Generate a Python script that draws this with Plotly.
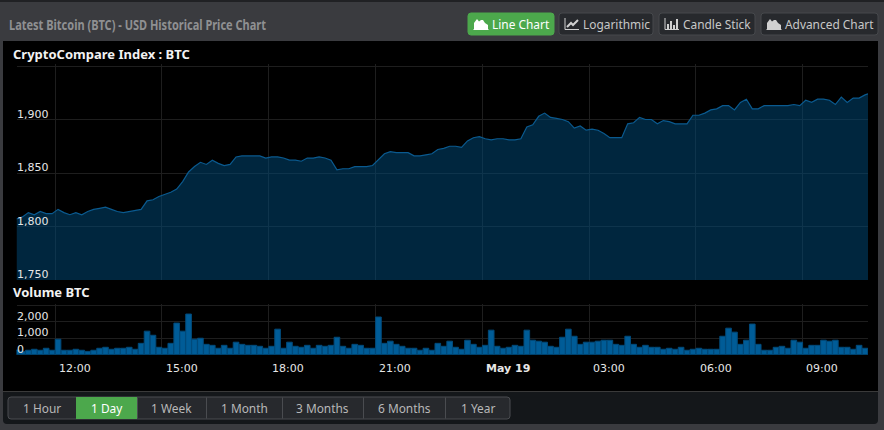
import pandas as pd
import plotly.graph_objects as go

W, H = 884, 430

PRICE = [
    1807, 1809, 1813, 1811, 1814, 1812, 1812, 1816, 1813, 1811,
    1813, 1811, 1814, 1816, 1817, 1818, 1816, 1814, 1813, 1814,
    1815, 1816, 1824, 1825, 1828, 1830, 1832, 1835, 1842, 1851,
    1856, 1860, 1858, 1862, 1859, 1857, 1858, 1865, 1866, 1866,
    1866, 1866, 1864, 1865, 1865, 1864,
    1862, 1862, 1861, 1864, 1864, 1865, 1864, 1862, 1853, 1854,
    1854, 1856, 1856, 1856, 1857, 1863, 1868, 1870, 1869, 1869,
    1869, 1866, 1866, 1867, 1868, 1872, 1873, 1875, 1875, 1874,
    1880, 1883, 1884, 1882, 1881, 1882, 1882, 1881, 1881, 1882,
    1893, 1895, 1903, 1906, 1902, 1901, 1900, 1898, 1892, 1894,
    1890,
    1891, 1890, 1887, 1883, 1883, 1883, 1896, 1897, 1902, 1900,
    1900, 1896, 1899, 1898, 1896, 1896, 1896, 1904, 1904, 1906,
    1909, 1910, 1913, 1913, 1909, 1916, 1919, 1910, 1910, 1913,
    1913, 1913, 1913, 1913, 1914, 1913, 1918, 1916, 1919, 1919,
    1918, 1914, 1921, 1916, 1920, 1920, 1923, 1924,
]
VOLUME = [
    290, 200, 270, 330, 270, 390, 270, 940, 270, 270,
    330, 270, 200, 270, 390, 450, 330, 390, 390, 450, 330,
    690, 1430, 1180, 450, 390, 690, 1920, 1430, 2470, 940,
    1000, 630, 570, 390, 570, 390, 760, 630, 570, 570,
    510, 390, 510, 1550, 390, 760, 510,
    450, 570, 390, 570, 510, 570, 1060, 510, 390, 630,
    570, 390, 390, 2290, 690, 820, 630, 510, 390, 390,
    270, 390, 270, 690, 510, 820, 450, 330, 880, 630,
    450, 570, 1490, 510, 390, 450, 570, 510, 1490, 880,
    820, 760, 510, 450, 1060, 1550, 1120, 630,
    760, 760, 820, 880, 880, 630, 570, 1120, 630, 450,
    570, 450, 450, 330, 390, 330, 450, 270, 330, 390,
    330, 330, 330, 1120, 1610, 1370, 630, 880, 1860, 630,
    270, 270, 450, 510, 390, 880, 760, 390, 570, 570,
    880, 820, 880, 450, 450, 330, 570, 390,
]
TICK_TIMES = ["2017-05-18 12:00", "2017-05-18 15:00", "2017-05-18 18:00",
              "2017-05-18 21:00", "2017-05-19 00:00", "2017-05-19 03:00",
              "2017-05-19 06:00", "2017-05-19 09:00"]
TICK_LABELS = ["12:00", "15:00", "18:00", "21:00", "<b>May 19</b>", "03:00", "06:00", "09:00"]
PRICE_TICKS = [1750, 1800, 1850, 1900, 1950]
PRICE_LABELS = ["1,750", "1,800", "1,850", "1,900", ""]
VOLUME_TICKS = [0, 1000, 2000, 3000]
VOLUME_LABELS = ["0", "1,000", "2,000", ""]
RANGE_TABS = ["1 Hour", "1 Day", "1 Week", "1 Month", "3 Months", "6 Months", "1 Year"]
CHART_BUTTONS = ["Line Chart", "Logarithmic", "Candle Stick", "Advanced Chart"]

bar_times = pd.date_range("2017-05-18 10:55", periods=len(VOLUME), freq="10min")
line_times = list(bar_times) + [bar_times[-1] + pd.Timedelta(minutes=5)]
x_range = ["2017-05-18 10:55", "2017-05-19 10:50"]

GRID = "#1e1e1e"
LABEL = "#e6e6e6"
TICK_FONT = dict(family="DejaVu Sans", size=11, color=LABEL)
UI = "Noto Sans"
UI_SIZE = 11.9


def fx(x):
    return x / W


def fy(y):
    return 1 - y / H


def rect(x0, y0, x1, y1, fill, line=None, lw=1):
    return dict(type="rect", xref="paper", yref="paper", layer="below",
                x0=fx(x0), x1=fx(x1), y0=fy(y0), y1=fy(y1), fillcolor=fill,
                line=dict(color=line or fill, width=lw if line else 0))


def rrect(x0, y0, x1, y1, r, fill, line=None, lw=1, layer="below"):
    p = (f"M {fx(x0 + r)} {fy(y0)} L {fx(x1 - r)} {fy(y0)} Q {fx(x1)} {fy(y0)} {fx(x1)} {fy(y0 + r)} "
         f"L {fx(x1)} {fy(y1 - r)} Q {fx(x1)} {fy(y1)} {fx(x1 - r)} {fy(y1)} "
         f"L {fx(x0 + r)} {fy(y1)} Q {fx(x0)} {fy(y1)} {fx(x0)} {fy(y1 - r)} "
         f"L {fx(x0)} {fy(y0 + r)} Q {fx(x0)} {fy(y0)} {fx(x0 + r)} {fy(y0)} Z")
    return dict(type="path", xref="paper", yref="paper", layer=layer, path=p,
                fillcolor=fill, line=dict(color=line or fill, width=lw if line else 0))


def poly(points, fill=None, line=None, lw=1):
    p = "M " + " L ".join(f"{fx(a)} {fy(b)}" for a, b in points)
    if fill:
        p += " Z"
    d = dict(type="path", xref="paper", yref="paper", layer="above", path=p,
             line=dict(color=line or fill, width=lw))
    if fill:
        d["fillcolor"] = fill
    return d


def label(text, x, y, size=UI_SIZE, color="#c4c4c4", family=UI, anchor="left", weight=None):
    font = dict(family=family, size=size, color=color)
    if weight:
        font["weight"] = weight
    return dict(text=text, xref="paper", yref="paper", x=fx(x), y=fy(y), xanchor=anchor,
                yanchor="middle", showarrow=False, align=anchor, borderpad=0, font=font)


def area_icon(x, color):
    return [poly([(x, 29), (x, 23), (x + 3, 19), (x + 5, 21.5), (x + 7, 20), (x + 9, 20), (x + 11, 23), (x + 14, 25), (x + 14, 29)], fill=color, lw=0),
            poly([(x - 0.5, 29.5), (x + 14.5, 29.5)], line=color)]


def line_icon(x, color):
    return [poly([(x, 18), (x, 29.5), (x + 14, 29.5)], line=color),
            poly([(x + 2, 27), (x + 6, 23), (x + 8, 25), (x + 13, 20)], line=color, lw=2)]


def bar_icon(x, color):
    out = [poly([(x, 18), (x, 29.5), (x + 14, 29.5)], line=color)]
    for dx, top in [(2, 24), (5, 21), (8, 25), (11, 19)]:
        out.append(poly([(x + dx, 29), (x + dx, top), (x + dx + 2, top), (x + dx + 2, 29)], fill=color, lw=0))
    return out


shapes = [
    rect(0, 0, W, H, "#3a3b3f"),
    rect(0, 0, W, 2, "#202124"),
    rrect(3, 380, 878, 424, 4, "#14171a"),
    rect(3, 41, 878, 391, "#000000"),
    rect(3, 391, 878, 392, "#3a3a3a"),
]

annotations = [
    label("Latest Bitcoin (BTC) - USD Historical Price Chart", 7.5, 24, size=14.5, color="#8f9092", weight=700),
    label("<b>CryptoCompare Index : BTC</b>", 12, 54, size=13, color="#f2f2f2"),
    label("<b>Volume BTC</b>", 12, 292, size=13, color="#f2f2f2"),
]

button_boxes = [(468, 554), (559, 653), (659, 755), (761, 878)]
icon_makers = [area_icon, line_icon, bar_icon, area_icon]
for i, (name, (x0, x1), icon) in enumerate(zip(CHART_BUTTONS, button_boxes, icon_makers)):
    active = i == 0
    shapes.append(rrect(x0, 13, x1, 35, 3, "#4ca84c" if active else "#27292d",
                        line="#4ca84c" if active else "#46484c"))
    col = "#ffffff" if active else "#d0d0d0"
    shapes.extend(icon(x0 + 6, col))
    annotations.append(label(name, x0 + 22.7, 23.5, color="#ffffff" if active else "#c8c8c8"))

tab_edges = [8, 76, 137, 206, 282, 363, 445, 510]
shapes.append(rrect(8, 397, 510, 419, 3, "#27292d", line="#4a4c50"))
for i, name in enumerate(RANGE_TABS):
    x0, x1 = tab_edges[i], tab_edges[i + 1]
    if i == 1:
        shapes.append(rect(x0, 397, x1, 419, "#4ca84c"))
    elif i > 1:
        shapes.append(rect(x0, 397.5, x0 + 1, 418.5, "#4a4c50"))
    annotations.append(label(name, (x0 + x1) / 2, 408, anchor="center",
                             color="#ffffff" if i == 1 else "#b8b8b8"))

for axis, ticks, labels in (("y", PRICE_TICKS, PRICE_LABELS), ("y2", VOLUME_TICKS, VOLUME_LABELS)):
    for value, text in zip(ticks, labels):
        if text:
            annotations.append(dict(text=text, xref="paper", yref=axis, x=fx(16), y=value, xanchor="left",
                                    yanchor="middle", yshift=5.5, showarrow=False, borderpad=0, font=TICK_FONT))
for when, text in zip(TICK_TIMES, TICK_LABELS):
    annotations.append(dict(text=text, xref="x2", yref="paper", x=when, y=fy(368), xanchor="left",
                            yanchor="middle", xshift=2.7, showarrow=False, borderpad=0, font=TICK_FONT))

fig = go.Figure()
fig.add_trace(go.Scatter(
    x=line_times, y=PRICE, mode="lines", xaxis="x", yaxis="y", fill="tozeroy",
    fillcolor="rgba(0,72,118,0.52)", line=dict(color="#0a5a8f", width=1.2),
    showlegend=False, hoverinfo="skip"))
fig.add_trace(go.Bar(
    x=bar_times, y=VOLUME, xaxis="x2", yaxis="y2", width=570000,
    marker=dict(color="#005c97", line=dict(color="#004a7a", width=1)),
    showlegend=False, hoverinfo="skip"))

x_common = dict(type="date", range=x_range, showgrid=True, gridcolor=GRID, gridwidth=1,
                zeroline=False, showline=False, ticks="", tickmode="array", tickvals=TICK_TIMES,
                showticklabels=False, domain=[fx(16.5), fx(868)])
fig.update_layout(
    width=W, height=H, margin=dict(l=0, r=0, t=0, b=0), autosize=False,
    paper_bgcolor="#3a3b3f", plot_bgcolor="rgba(0,0,0,0)",
    shapes=shapes, annotations=annotations, showlegend=False,
    xaxis=dict(x_common, anchor="y"),
    xaxis2=dict(x_common, anchor="y2"),
    yaxis=dict(domain=[fy(280), fy(64.3)], range=[1750, 1951.6], anchor="x", tickmode="array",
               tickvals=PRICE_TICKS, showticklabels=False, gridcolor=GRID, zeroline=False,
               showline=False, ticks=""),
    yaxis2=dict(domain=[fy(354.7), fy(303.5)], range=[0, 3110], anchor="x2", tickmode="array",
                tickvals=VOLUME_TICKS, showticklabels=False, gridcolor=GRID, zeroline=False,
                showline=False, ticks=""),
)
POST = """
document.body.style.margin='0';document.body.style.overflow='hidden';
document.querySelectorAll('.annotation-text').forEach(function(t){
  if(t.textContent.indexOf('Latest Bitcoin')===0){
    t.setAttribute('textLength','257');t.setAttribute('lengthAdjust','spacingAndGlyphs');
  }
});
"""
fig.write_html("out.html", post_script=POST, config=dict(displayModeBar=False))
